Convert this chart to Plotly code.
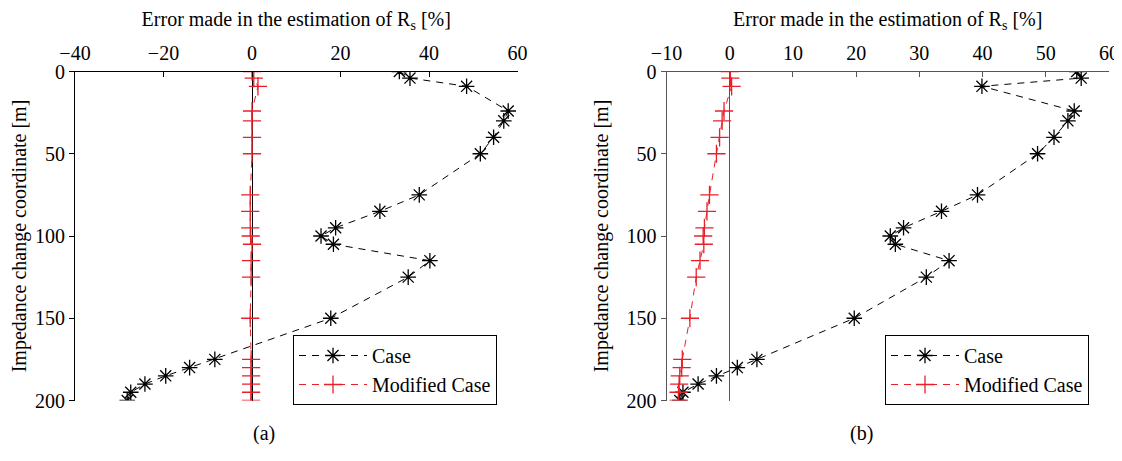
import plotly.graph_objects as go

# ---- data ----
depth = [0, 4, 9, 24, 30, 40, 50, 75, 85, 95, 100, 105, 115, 125, 150, 175, 180, 185, 190, 195, 200]

case_a = [33.3, 35.7, 48.5, 57.9, 56.9, 54.6, 51.6, 37.8, 28.9, 18.9, 15.6, 18.4, 40.2, 35.3, 17.8,
          -8.4, -14.1, -19.5, -24.2, -27.4, -28.2]
mod_a = [0, 0.4, 1.35, 0, 0, 0, 0, -0.4, -0.4, -0.4, -0.3, 0, -0.2, -0.2, -0.4,
         -0.2, -0.2, -0.2, -0.2, -0.2, -0.2]

case_b = [54.9, 55.6, 39.9, 54.5, 53.5, 51.3, 48.7, 39.2, 33.5, 27.5, 25.4, 26.2, 34.7, 31.1, 19.7,
          4.3, 1.2, -2.1, -5.0, -7.4, -7.9]
mod_b = [0, 0.1, 0.3, -0.9, -1.2, -1.6, -2.1, -3.2, -3.6, -4.0, -4.2, -4.1, -4.7, -5.3, -6.3,
         -7.5, -7.6, -7.9, -8.0, -8.1, -8.1]

x_ticks_a = [-40, -20, 0, 20, 40, 60]
x_ticks_b = [-10, 0, 10, 20, 30, 40, 50, 60]
y_ticks = [0, 50, 100, 150, 200]

series_names = ["Case", "Modified Case"]
x_title = "Error made in the estimation of R<sub>s</sub> [%]"
y_title = "Impedance change coordinate [m]"
captions = ["(a)", "(b)"]

FONT = "'Liberation Serif', 'Times New Roman', Times, 'DejaVu Serif', serif"
RED = "#e8202a"
DASH = "7px,6px"

fig = go.Figure()

def add_pair(case, mod, xa, ya, leg):
    fig.add_trace(go.Scatter(
        x=case, y=depth, mode="lines+markers", name=series_names[0],
        xaxis=xa, yaxis=ya, legend=leg,
        line=dict(color="black", width=1, dash=DASH),
        marker=dict(symbol="asterisk-open", size=13, color="black",
                    line=dict(color="black", width=1.3)),
    ))
    fig.add_trace(go.Scatter(
        x=mod, y=depth, mode="lines+markers", name=series_names[1],
        xaxis=xa, yaxis=ya, legend=leg,
        line=dict(color=RED, width=1, dash=DASH),
        marker=dict(symbol="cross-thin-open", size=13, color=RED,
                    line=dict(color=RED, width=1.3)),
    ))

add_pair(case_a, mod_a, "x", "y", "legend")
add_pair(case_b, mod_b, "x2", "y2", "legend2")

# page body offset of 8px: map reference pixels to figure pixels
OFF = 8
W, H = 1122 - OFF, 461 - OFF

def px(x):
    return (x - OFF) / W

def py(y):
    return 1 - (y - OFF) / H

dom_y = [py(400.5), py(71.5)]

def xaxis(rng, ticks, dom, col):
    return dict(
        domain=dom, range=rng, tickvals=ticks, side="top", automargin=False,
        showline=True, linecolor=col, linewidth=1,
        ticks="inside", ticklen=5, tickcolor=col, ticklabelstandoff=3,
        showgrid=False, zeroline=True, zerolinecolor=col, zerolinewidth=1,
        tickfont=dict(family=FONT, size=20, color="black"),
        title=dict(text=x_title, font=dict(family=FONT, size=20, color="black"), standoff=16),
    )

def yaxis(anchor, col):
    return dict(
        domain=dom_y, range=[200, 0], tickvals=y_ticks, anchor=anchor, automargin=False,
        showline=True, linecolor=col, linewidth=1,
        ticks="outside", ticklen=5, tickcolor=col,
        showgrid=False, zeroline=False,
        tickfont=dict(family=FONT, size=20, color="black"),
        title=dict(text=y_title, font=dict(family=FONT, size=20, color="black"), standoff=12),
    )

leg_common = dict(
    xanchor="left", yanchor="top", bgcolor="white",
    bordercolor="black", borderwidth=1,
    font=dict(family=FONT, size=20, color="black"),
    tracegroupgap=0, itemwidth=68,
)

fig.update_layout(
    width=W, height=H,
    margin=dict(l=0, r=0, t=0, b=0, autoexpand=False),
    font=dict(family=FONT),
    paper_bgcolor="white", plot_bgcolor="white",
    xaxis=dict(**xaxis([-40, 60], x_ticks_a, [px(75), px(517.5)], "black"), anchor="y"),
    yaxis=yaxis("x", "black"),
    xaxis2=dict(**xaxis([-10, 60], x_ticks_b, [px(666.5), px(1109)], "#555555"), anchor="y2"),
    yaxis2=yaxis("x2", "#555555"),
    legend=dict(x=px(293), y=py(335), **leg_common),
    legend2=dict(x=px(885), y=py(335), **leg_common),
    annotations=[
        dict(text=captions[0], x=px(251), y=py(447), xref="paper", yref="paper",
             showarrow=False, font=dict(family=FONT, size=20, color="black")),
        dict(text=captions[1], x=px(875), y=py(447), xref="paper", yref="paper",
             showarrow=False, font=dict(family=FONT, size=20, color="black")),
    ],
)

fig.write_html("out.html")
